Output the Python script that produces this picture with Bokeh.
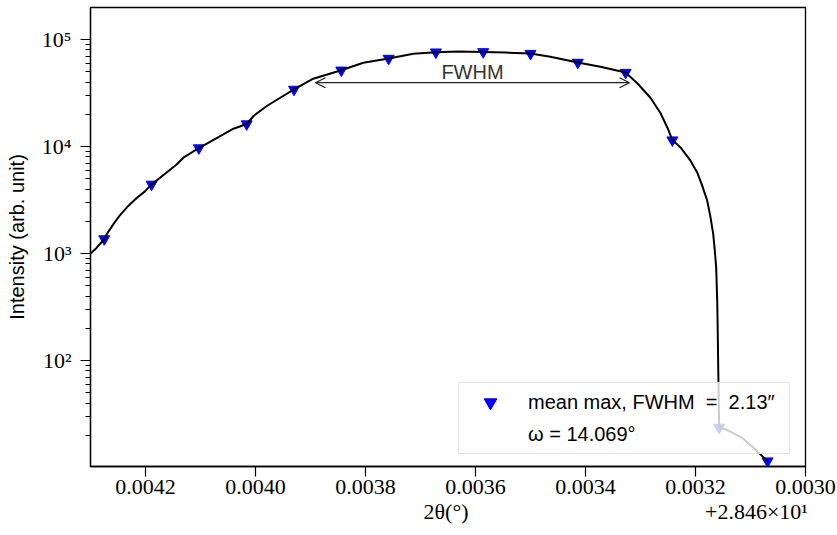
from bokeh.plotting import figure
from bokeh.models import (Range1d, FixedTicker, PrintfTickFormatter, CustomJSTickFormatter,
                          Arrow, OpenHead, Label, Legend, LegendItem)
from bokeh.embed import file_html
from bokeh.resources import INLINE

# ---------------- data ----------------
offset_label = "+2.846×10¹"          # axis offset: x shown as 2θ - 28.46

marker_x = [0.004275, 0.004189, 0.004103, 0.004016, 0.003930, 0.003844, 0.003758,
            0.003672, 0.003586, 0.003500, 0.003414, 0.003327, 0.003242, 0.003157, 0.003069]
marker_y = [1368, 4430, 9683, 16225, 34140, 51580, 66460,
            76120, 76600, 73850, 60990, 49100, 11480, 23.7, 11.5]

curve_x = [0.004300, 0.004289, 0.004275, 0.004271, 0.004259, 0.004247, 0.004231, 0.004216,
           0.004201, 0.004189, 0.004165, 0.004144, 0.004131, 0.004103, 0.004069, 0.004040,
           0.004016, 0.0040031, 0.0039787, 0.003955, 0.003930, 0.003895, 0.003844, 0.003804,
           0.003758, 0.003713, 0.003672, 0.003631, 0.003586, 0.003545, 0.003500, 0.003464,
           0.003414, 0.003373, 0.003327, 0.003305, 0.003282, 0.003264, 0.003251, 0.003242,
           0.0032273, 0.0032091, 0.0031969, 0.0031878, 0.0031787, 0.0031727, 0.0031678,
           0.0031649, 0.0031624, 0.0031605, 0.0031595, 0.0031587, 0.0031582, 0.0031570,
           0.003140, 0.003116, 0.003095, 0.003069]
curve_y = [998, 1128, 1368, 1501, 1862, 2259, 2801, 3304,
           3809, 4430, 5536, 6763, 7862, 9683, 12084, 14665,
           16225, 19390, 24040, 28560, 34140, 42970, 51580, 60600,
           66460, 73550, 76120, 77090, 76600, 75460, 73850, 68940,
           60990, 55610, 49100, 38580, 28560, 20690, 14980, 11480,
           9808, 7370, 5731, 4305, 3118, 2178, 1524,
           1064, 743, 363, 178, 86.6, 61.0, 23.7,
           22.2, 19.1, 15.4, 11.5]

x_ticks = [0.0042, 0.0040, 0.0038, 0.0036, 0.0034, 0.0032, 0.0030]
y_ticks = [1e2, 1e3, 1e4, 1e5]
y_minor = [m * d for d in [10, 100, 1000, 10000, 100000] for m in range(2, 10)]

half_max = 39450
fwhm_left = 0.003891
fwhm_right = 0.003320

legend_labels = ["mean max, FWHM\u00a0 = \u00a02.13″\u00a0\u00a0", "ω = 14.069°"]
x_label = "2θ(°)"
y_label = "Intensity (arb. unit)"

# ---------------- figure ----------------
p = figure(width=837, height=535, output_backend="svg", toolbar_location=None,
           y_axis_type="log",
           x_range=Range1d(0.0043, 0.0030), y_range=Range1d(10.24, 1.99e5),
           min_border_left=90, min_border_right=32, min_border_top=7, min_border_bottom=69)
p.xgrid.visible = False
p.ygrid.visible = False
p.outline_line_color = "black"
p.outline_line_width = 1.3
p.outline_line_alpha = 1.0
p.background_fill_color = "white"
p.border_fill_color = "white"

sc = p.scatter(marker_x, marker_y, marker="inverted_triangle", size=11,
               fill_color="#0000ff", line_color="#0000ff")
p.line(curve_x, curve_y, line_color="black", line_width=2, line_join="round")
ghost = p.scatter([marker_x[0]], [marker_y[0]], marker="inverted_triangle", size=1,
                  fill_alpha=0, line_alpha=0)

# axes
p.xaxis.ticker = FixedTicker(ticks=x_ticks)
p.xaxis.formatter = PrintfTickFormatter(format="%.4f")
p.yaxis.ticker = FixedTicker(ticks=y_ticks, minor_ticks=y_minor)
p.yaxis.formatter = CustomJSTickFormatter(code="""
const sup = {"-":"\u207b","0":"\u2070","1":"\u00b9","2":"\u00b2","3":"\u00b3","4":"\u2074",
             "5":"\u2075","6":"\u2076","7":"\u2077","8":"\u2078","9":"\u2079"};
const e = Math.round(Math.log10(tick));
return "10" + String(e).split("").map(c => sup[c]).join("");
""")
for ax in (p.xaxis[0], p.yaxis[0]):
    ax.axis_line_color = "black"
    ax.axis_line_width = 1.3
    ax.major_tick_line_color = "black"
    ax.minor_tick_line_color = "black"
    ax.major_tick_line_width = 1.2
    ax.minor_tick_line_width = 1.0
    ax.major_tick_in = 0
    ax.minor_tick_in = 0
    ax.major_label_text_font = "Liberation Serif"
    ax.major_label_text_font_size = "22px"
    ax.major_label_text_color = "black"
    ax.axis_label_text_color = "black"
    ax.axis_label_text_font_style = "normal"
p.xaxis.major_tick_out = 10
p.xaxis.minor_tick_out = 0
p.xaxis.major_label_standoff = 3
p.yaxis.major_tick_out = 10
p.yaxis.minor_tick_out = 5
p.yaxis.major_label_standoff = 9

# x axis label carries the offset text at its right end (non-breaking spaces keep the gap)
pad_left = "\u00a0" * 61
gap = "\u00a0" * 43
p.xaxis.axis_label = pad_left + x_label + gap + offset_label
p.xaxis.axis_label_text_font = "Liberation Serif"
p.xaxis.axis_label_text_font_size = "22px"
p.xaxis.axis_label_standoff = 2
p.yaxis.axis_label = y_label
p.yaxis.axis_label_text_font = "Liberation Sans"
p.yaxis.axis_label_text_font_size = "20px"
p.yaxis.axis_label_standoff = 11

# FWHM annotation
p.add_layout(Arrow(start=OpenHead(size=10, line_width=1.3, line_color="#222222"),
                   end=OpenHead(size=10, line_width=1.3, line_color="#222222"),
                   x_start=fwhm_left, y_start=half_max, x_end=fwhm_right, y_end=half_max,
                   line_width=1.3, line_color="#222222"))
p.add_layout(Label(x=(fwhm_left + fwhm_right) / 2, y=half_max, text="FWHM",
                   text_align="center", text_baseline="bottom", y_offset=0,
                   text_font="Liberation Sans", text_font_size="20px", text_color="#333333"))

# legend
legend = Legend(items=[LegendItem(label=legend_labels[0], renderers=[sc]),
                       LegendItem(label=legend_labels[1], renderers=[ghost])],
                location=(368, 12))
legend.label_text_font = "Liberation Sans"
legend.label_text_font_size = "20px"
legend.label_text_color = "black"
legend.glyph_width = 56
legend.glyph_height = 32
legend.label_height = 32
legend.label_standoff = 10
legend.padding = 3
legend.spacing = 0
legend.margin = 0
legend.border_line_color = "#cccccc"
legend.border_line_width = 1
legend.background_fill_color = "white"
legend.background_fill_alpha = 0.8
p.add_layout(legend)

open("out.html", "w").write(file_html(p, INLINE))
